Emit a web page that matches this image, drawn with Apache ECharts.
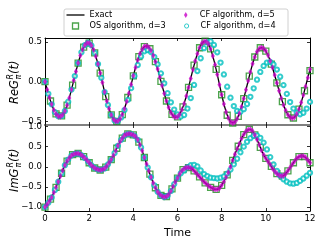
<!DOCTYPE html>
<html><head><meta charset="utf-8">
<script src="https://cdn.jsdelivr.net/npm/echarts@6/dist/echarts.min.js"></script>
<style>html,body{margin:0;padding:0;background:#fff}#c{width:320px;height:240px}</style>
</head><body><div id="c"></div>
<script>
// sampling steps (time units) of each series
const stepExact = 0.1;   // exact curve and CF d=5 markers
const stepOS = 0.25;     // OS algorithm, d=3
const stepCF4 = 0.15;    // CF algorithm, d=4

// Re G(t), exact
const reExact = [0, -0.10, -0.20, -0.285, -0.355, -0.405, -0.434, -0.439, -0.417, -0.368,
 -0.296, -0.204, -0.099, 0.014, 0.127, 0.234, 0.329, 0.406, 0.459, 0.486,
 0.486, 0.457, 0.401, 0.321, 0.222, 0.109, -0.011, -0.130, -0.242, -0.340,
 -0.418, -0.472, -0.498, -0.495, -0.467, -0.414, -0.341, -0.250, -0.146, -0.036,
 0.074, 0.180, 0.274, 0.351, 0.408, 0.442, 0.450, 0.433, 0.392, 0.331,
 0.252, 0.159, 0.057, -0.047, -0.149, -0.243, -0.324, -0.387, -0.430, -0.449,
 -0.443, -0.411, -0.354, -0.276, -0.180, -0.072, 0.041, 0.154, 0.260, 0.353,
 0.427, 0.480, 0.507, 0.506, 0.474, 0.412, 0.323, 0.214, 0.092, -0.037,
 -0.164, -0.281, -0.380, -0.456, -0.504, -0.520, -0.506, -0.466, -0.401, -0.315,
 -0.213, -0.102, 0.012, 0.123, 0.225, 0.311, 0.376, 0.416, 0.430, 0.419,
 0.386, 0.333, 0.262, 0.178, 0.084, -0.015, -0.114, -0.208, -0.292, -0.363,
 -0.416, -0.449, -0.460, -0.447, -0.408, -0.346, -0.263, -0.166, -0.060, 0.050,
 0.156];
// Im G(t), exact
const imExact = [-1.00, -0.93, -0.85, -0.76, -0.64, -0.51, -0.37, -0.23, -0.09, 0.04,
 0.14, 0.22, 0.28, 0.31, 0.33, 0.33, 0.31, 0.27, 0.22, 0.16,
 0.10, 0.04, -0.01, -0.05, -0.07, -0.08, -0.07, -0.04, 0.02, 0.10,
 0.18, 0.28, 0.40, 0.52, 0.63, 0.71, 0.78, 0.81, 0.82, 0.81,
 0.79, 0.75, 0.67, 0.55, 0.40, 0.23, 0.07, -0.10, -0.26, -0.40,
 -0.52, -0.62, -0.69, -0.73, -0.75, -0.74, -0.69, -0.60, -0.49, -0.38,
 -0.28, -0.18, -0.10, -0.05, -0.02, -0.02, -0.03, -0.07, -0.13, -0.19,
 -0.25, -0.31, -0.37, -0.42, -0.47, -0.51, -0.54, -0.56, -0.56, -0.53,
 -0.46, -0.37, -0.26, -0.14, 0.00, 0.16, 0.31, 0.45, 0.57, 0.70,
 0.80, 0.88, 0.92, 0.93, 0.89, 0.79, 0.68, 0.55, 0.41, 0.30,
 0.21, 0.13, 0.05, -0.04, -0.11, -0.17, -0.21, -0.23, -0.22, -0.17,
 -0.10, -0.02, 0.06, 0.14, 0.21, 0.25, 0.27, 0.27, 0.23, 0.17,
 0.10];
// CF algorithm d=5 markers sit on the exact curve
const reCF5 = reExact;
const imCF5 = imExact;
// OS algorithm, d=3
const reOS = [0, -0.243, -0.405, -0.431, -0.296, -0.043, 0.234, 0.435, 0.486, 0.364,
 0.109, -0.188, -0.418, -0.50, -0.414, -0.199, 0.074, 0.315, 0.442, 0.415,
 0.252, 0.005, -0.243, -0.411, -0.443, -0.317, -0.072, 0.208, 0.427, 0.51,
 0.412, 0.154, -0.164, -0.422, -0.520, -0.436, -0.213, 0.069, 0.311, 0.427,
 0.386, 0.222, -0.015, -0.252, -0.416, -0.457, -0.346, -0.114, 0.14];
const imOS = [-1.00, -0.80, -0.51, -0.16, 0.14, 0.30, 0.33, 0.25, 0.10, -0.03,
 -0.08, -0.01, 0.18, 0.46, 0.71, 0.815, 0.79, 0.61, 0.23, -0.18,
 -0.52, -0.71, -0.74, -0.55, -0.28, -0.07, -0.02, -0.10, -0.25, -0.40,
 -0.51, -0.56, -0.46, -0.20, 0.16, 0.51, 0.80, 0.93, 0.79, 0.48,
 0.21, 0.01, -0.17, -0.23, -0.10, 0.10, 0.25, 0.25, 0.10];
// CF algorithm, d=4
const reCF4 = [0, -0.152, -0.285, -0.383, -0.434, -0.431, -0.368, -0.252, -0.099, 0.071,
 0.234, 0.370, 0.459, 0.49, 0.457, 0.364, 0.222, 0.049, -0.130, -0.292,
 -0.418, -0.488, -0.496, -0.450, -0.357, -0.229, -0.081, 0.071, 0.210, 0.318,
 0.383, 0.399, 0.373, 0.311, 0.219, 0.105, -0.020, -0.145, -0.259, -0.351,
 -0.413, -0.439, -0.419, -0.338, -0.206, -0.041, 0.134, 0.295, 0.422, 0.496,
 0.507, 0.463, 0.370, 0.241, 0.091, -0.063, -0.201, -0.307, -0.368, -0.378,
 -0.346, -0.281, -0.190, -0.083, 0.025, 0.123, 0.198, 0.241, 0.248, 0.217,
 0.153, 0.063, -0.043, -0.153, -0.256, -0.338, -0.391, -0.41, -0.391, -0.338,
 -0.254];
const imCF4 = [-1.00, -0.89, -0.76, -0.575, -0.37, -0.16, 0.04, 0.18, 0.28, 0.32,
 0.33, 0.29, 0.22, 0.13, 0.04, -0.03, -0.07, -0.075, -0.04, 0.06,
 0.18, 0.34, 0.52, 0.67, 0.77, 0.815, 0.81, 0.77, 0.67, 0.48,
 0.23, -0.02, -0.26, -0.46, -0.62, -0.71, -0.75, -0.72, -0.60, -0.43,
 -0.28, -0.16, -0.09, -0.01, 0.04, 0.05, 0.01, -0.09, -0.18, -0.23,
 -0.27, -0.28, -0.29, -0.27, -0.24, -0.17, -0.07, 0.06, 0.20, 0.36,
 0.50, 0.62, 0.71, 0.77, 0.78, 0.72, 0.60, 0.43, 0.24, 0.06,
 -0.10, -0.22, -0.31, -0.37, -0.41, -0.42, -0.40, -0.35, -0.29, -0.22,
 -0.15];

const xTicks = [0, 2, 4, 6, 8, 10, 12];
const reTicks = [-0.5, 0, 0.5];
const imTicks = [-1, -0.5, 0, 0.5, 1];

const FONT = 'DejaVu Sans';
const GREEN = '#1e8c1e', MAG = '#c800c8', CYAN = '#00bfbf';
const pts = (arr, step) => arr.map((v, i) => [Math.round(i * step * 1000) / 1000, v]);
const fmt = v => (Math.abs(v) < 1e-9 ? '0.0' : v.toFixed(1).replace('-', '\u2212'));

const chart = echarts.init(document.getElementById('c'), null, {renderer: 'canvas', width: 320, height: 240});

function xAxis(grid, pos, showLabel, lineColor, lineWidth, extra) {
  return Object.assign({
    type: 'value', gridIndex: grid, position: pos, min: 0, max: 12, interval: 2,
    axisLine: {show: true, onZero: false, lineStyle: {color: lineColor, width: lineWidth}},
    axisTick: {show: true, inside: true, length: 3, lineStyle: {color: '#000', width: 0.8}},
    axisLabel: {show: showLabel, margin: 3, fontSize: 8.6, fontFamily: FONT, color: '#000'},
    splitLine: {show: false}
  }, extra || {});
}
function yAxis(grid, pos, min, max, ticks, showLabel) {
  return {
    type: 'value', gridIndex: grid, position: pos, min: min, max: max,
    axisLine: {show: true, onZero: false, lineStyle: {color: '#000', width: 1}},
    axisTick: {show: true, inside: true, length: 3, customValues: ticks, lineStyle: {color: '#000', width: 0.8}},
    axisLabel: {show: showLabel, margin: 3, fontSize: 8.6, fontFamily: FONT, color: '#000', customValues: ticks, formatter: fmt},
    splitLine: {show: false}
  };
}

function yLabel(prefix, cy) {
  return {
    type: 'group', x: 15, y: cy, rotation: Math.PI / 2, silent: true,
    children: [
      {type: 'text', x: -22, y: 0, style: {text: prefix, fontSize: 11.5, fontStyle: 'italic', fontFamily: FONT, fill: '#000', align: 'left', verticalAlign: 'middle'}},
      {type: 'text', x: 2.5, y: -4.5, style: {text: 'R', fontSize: 8, fontStyle: 'italic', fontFamily: FONT, fill: '#000', align: 'left', verticalAlign: 'middle'}},
      {type: 'text', x: 2.5, y: 3.5, style: {text: '\u03c0', fontSize: 8, fontStyle: 'italic', fontFamily: FONT, fill: '#000', align: 'left', verticalAlign: 'middle'}},
      {type: 'text', x: 8, y: 0, style: {text: '(t)', fontSize: 11.5, fontStyle: 'italic', fontFamily: FONT, fill: '#000', align: 'left', verticalAlign: 'middle'}}
    ]
  };
}

const exactStyle = {type: 'line', showSymbol: false, symbol: 'none', lineStyle: {color: '#000', width: 1.3}, itemStyle: {color: '#000'}, z: 2};
const osStyle = {type: 'scatter', symbol: 'rect', symbolSize: 6, itemStyle: {color: 'rgba(0,0,0,0)', borderColor: GREEN, borderWidth: 1.3}, z: 3};
const cf5Style = {type: 'scatter', symbol: 'diamond', symbolSize: [4, 6.5], itemStyle: {color: MAG}, z: 5};
const cf4Style = {type: 'scatter', symbol: 'emptyCircle', symbolSize: 4.3, itemStyle: {color: CYAN, borderColor: CYAN, borderWidth: 0.9}, z: 4};

const series = [];
[[reExact, reOS, reCF5, reCF4, 0], [imExact, imOS, imCF5, imCF4, 2]].forEach(([ex, os, c5, c4, ax]) => {
  series.push(Object.assign({name: 'Exact', xAxisIndex: ax, yAxisIndex: ax, data: pts(ex, stepExact)}, exactStyle));
  series.push(Object.assign({name: 'OS algorithm, d=3', xAxisIndex: ax, yAxisIndex: ax, data: pts(os, stepOS)}, osStyle));
  series.push(Object.assign({name: 'CF algorithm, d=5', xAxisIndex: ax, yAxisIndex: ax, data: pts(c5, stepExact)}, cf5Style));
  series.push(Object.assign({name: 'CF algorithm, d=4', xAxisIndex: ax, yAxisIndex: ax, data: pts(c4, stepCF4)}, cf4Style));
});

const legendBase = {orient: 'vertical', itemWidth: 18, itemHeight: 6, itemGap: 2, top: 10.5, padding: 0, selectedMode: false,
  textStyle: {fontSize: 8.2, fontFamily: FONT, color: '#000', lineHeight: 9}};

chart.setOption({
  animation: false,
  backgroundColor: '#fff',
  grid: [
    {left: 45, right: 10, top: 38, height: 87},
    {left: 45, right: 10, top: 125, height: 88}
  ],
  xAxis: [
    xAxis(0, 'bottom', false, '#808080', 2),
    xAxis(0, 'top', false, '#000', 1),
    xAxis(1, 'bottom', true, '#000', 1, {name: 'Time', nameLocation: 'middle', nameGap: 17,
      nameTextStyle: {fontSize: 11, fontFamily: FONT, color: '#000'}}),
    xAxis(1, 'top', false, '#808080', 2)
  ],
  yAxis: [
    yAxis(0, 'left', -0.545, 0.55, reTicks, true),
    yAxis(0, 'right', -0.545, 0.55, reTicks, false),
    yAxis(1, 'left', -1.097, 1.037, imTicks, true),
    yAxis(1, 'right', -1.097, 1.037, imTicks, false)
  ],
  legend: [
    Object.assign({}, legendBase, {left: 66.5, data: [
      {name: 'Exact', icon: 'path://M0,0H18V1.3H0Z', itemStyle: {color: '#000', borderWidth: 0}},
      {name: 'OS algorithm, d=3', icon: 'path://M0,0H10V10H0Z', itemStyle: {color: 'rgba(0,0,0,0)', borderColor: GREEN, borderWidth: 1.3}}
    ]}),
    Object.assign({}, legendBase, {left: 184, data: [
      {name: 'CF algorithm, d=5', icon: 'path://M0,-3L1.75,0L0,3L-1.75,0Z', itemStyle: {color: MAG, borderWidth: 0}}
    ]}),
    Object.assign({}, legendBase, {left: 184, top: 21.5, itemHeight: 4.2, data: [
      {name: 'CF algorithm, d=4', icon: 'path://M5,0A5,5,0,1,1,4.99,0Z', itemStyle: {color: 'rgba(0,0,0,0)', borderColor: CYAN, borderWidth: 1}}
    ]})
  ],
  graphic: [
    {type: 'rect', z: 0, silent: true, shape: {x: 64, y: 9, width: 224, height: 27, r: 2},
      style: {fill: 'rgba(255,255,255,0.8)', stroke: '#d0d0d0', lineWidth: 1}},
    yLabel('ReG', 82),
    yLabel('ImG', 170)
  ],
  series: series
});
</script></body></html>
